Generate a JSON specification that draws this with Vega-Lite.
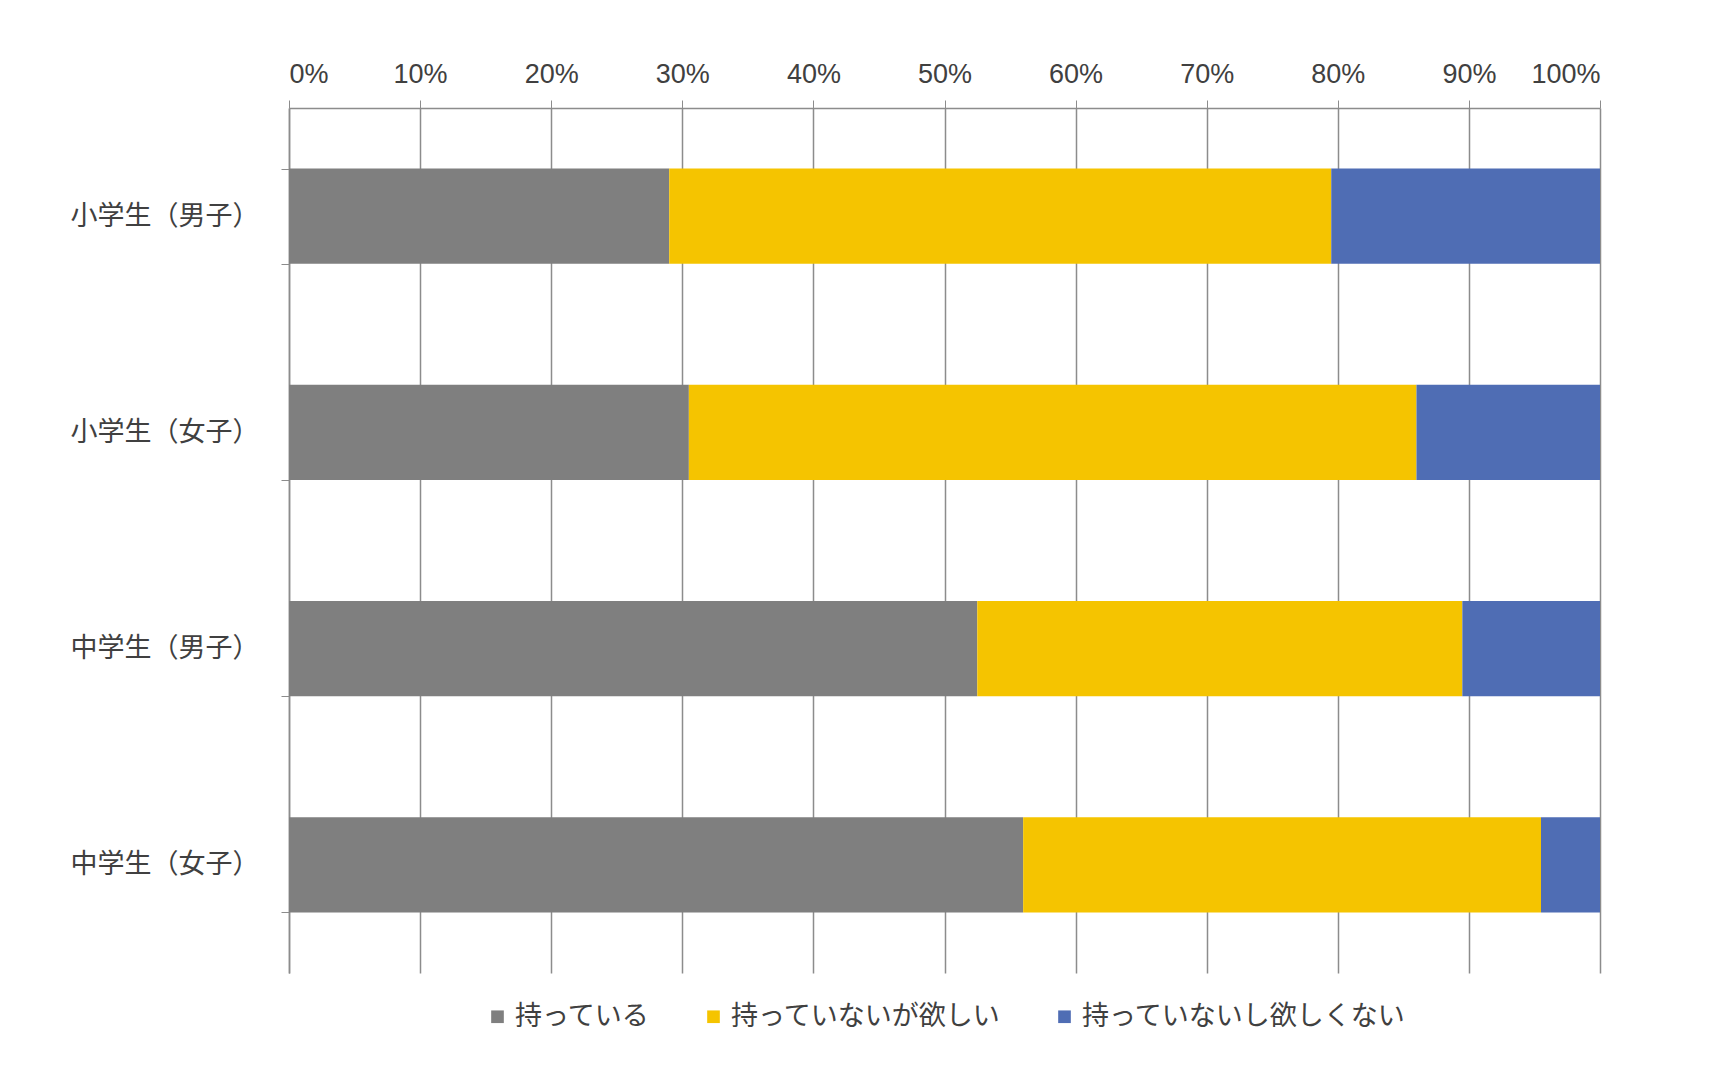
{
  "$schema": "https://vega.github.io/schema/vega-lite/v6.json",
  "autosize": {"type": "fit", "contains": "padding"},
  "width": 1731,
  "height": 1090,
  "background": "#ffffff",
  "padding": {"left": 70, "top": 60, "right": 130, "bottom": 60},
  "data": {
    "values": [
      {"group": "小学生（男子）", "status": "持っている", "o": 1, "value": 29},
      {"group": "小学生（男子）", "status": "持っていないが欲しい", "o": 2, "value": 50.5},
      {"group": "小学生（男子）", "status": "持っていないし欲しくない", "o": 3, "value": 20.5},
      {"group": "小学生（女子）", "status": "持っている", "o": 1, "value": 30.5},
      {"group": "小学生（女子）", "status": "持っていないが欲しい", "o": 2, "value": 55.5},
      {"group": "小学生（女子）", "status": "持っていないし欲しくない", "o": 3, "value": 14},
      {"group": "中学生（男子）", "status": "持っている", "o": 1, "value": 52.5},
      {"group": "中学生（男子）", "status": "持っていないが欲しい", "o": 2, "value": 37},
      {"group": "中学生（男子）", "status": "持っていないし欲しくない", "o": 3, "value": 10.5},
      {"group": "中学生（女子）", "status": "持っている", "o": 1, "value": 56},
      {"group": "中学生（女子）", "status": "持っていないが欲しい", "o": 2, "value": 39.5},
      {"group": "中学生（女子）", "status": "持っていないし欲しくない", "o": 3, "value": 4.5}
    ]
  },
  "mark": {"type": "bar"},
  "encoding": {
    "y": {
      "field": "group",
      "type": "nominal",
      "sort": ["小学生（男子）", "小学生（女子）", "中学生（男子）", "中学生（女子）"],
      "scale": {"paddingInner": 0.56, "paddingOuter": 0.28},
      "axis": {
        "title": null,
        "labelFont": "Noto Sans CJK JP",
        "labelFontSize": 27,
        "labelColor": "#404040",
        "labelPadding": 22,
        "labelLimit": 0,
        "domainColor": "#8c8c8c",
        "domainWidth": 1.5,
        "tickColor": "#8c8c8c",
        "tickBand": "extent",
        "ticks": true,
        "tickSize": 8
      }
    },
    "x": {
      "field": "value",
      "type": "quantitative",
      "stack": "normalize",
      "scale": {"domain": [0, 1], "nice": false},
      "axis": {
        "orient": "top",
        "title": null,
        "format": ".0%",
        "values": [0, 0.1, 0.2, 0.3, 0.4, 0.5, 0.6, 0.7, 0.8, 0.9, 1],
        "labelFont": "Liberation Sans",
        "labelFontSize": 27,
        "labelColor": "#404040",
        "labelPadding": 12,
        "grid": true,
        "gridColor": "#8c8c8c",
        "gridWidth": 1.5,
        "domainColor": "#8c8c8c",
        "domainWidth": 1.5,
        "tickColor": "#8c8c8c",
        "tickSize": 8
      }
    },
    "color": {
      "field": "status",
      "type": "nominal",
      "sort": ["持っている", "持っていないが欲しい", "持っていないし欲しくない"],
      "scale": {
        "domain": ["持っている", "持っていないが欲しい", "持っていないし欲しくない"],
        "range": ["#7f7f7f", "#f5c400", "#4f6db4"]
      },
      "legend": {
        "title": null,
        "orient": "bottom",
        "direction": "horizontal",
        "symbolType": "square",
        "symbolSize": 160,
        "symbolStrokeWidth": 0,
        "labelFont": "Noto Sans CJK JP",
        "labelFontSize": 27,
        "labelColor": "#404040",
        "labelLimit": 0,
        "columnPadding": 50,
        "offset": 30
      }
    },
    "order": {"field": "o", "type": "quantitative"}
  },
  "config": {
    "view": {"stroke": null},
    "legend": {"layout": {"bottom": {"anchor": "middle"}}}
  }
}
